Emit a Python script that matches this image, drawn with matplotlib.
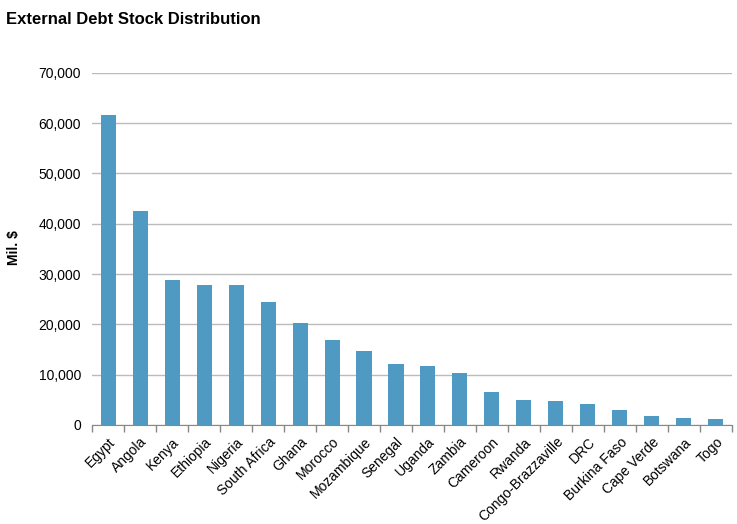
import matplotlib

matplotlib.use("Agg")
import matplotlib.pyplot as plt
from matplotlib.ticker import FuncFormatter, MultipleLocator, FixedLocator
import numpy as np

countries = [
    "Egypt", "Angola", "Kenya", "Ethiopia", "Nigeria", "South Africa", "Ghana",
    "Morocco", "Mozambique", "Senegal", "Uganda", "Zambia", "Cameroon", "Rwanda",
    "Congo-Brazzaville", "DRC", "Burkina Faso", "Cape Verde", "Botswana", "Togo",
]
debt_stock = [
    61600, 42500, 28800, 27800, 27800, 24500, 20300,
    16900, 14700, 12100, 11700, 10300, 6600, 5000,
    4800, 4200, 3000, 1800, 1400, 1200,
]

plt.rcParams["font.family"] = ["Liberation Sans", "DejaVu Sans"]

fig = plt.figure(figsize=(7.37, 5.24), dpi=100)
ax = fig.add_axes([0.125, 0.189, 0.868, 0.672])

x = np.arange(len(countries))
ax.bar(x, debt_stock, width=0.47, color="#4F9AC3", zorder=3)

ax.set_xlim(-0.5, len(countries) - 0.5)
ax.set_ylim(0, 70000)
ax.yaxis.set_major_locator(MultipleLocator(10000))
ax.yaxis.set_major_formatter(FuncFormatter(lambda v, p: f"{int(v):,}"))
ax.grid(axis="y", color="#BBBBBB", linewidth=1, zorder=0)

ax.set_xticks(x)
ax.set_xticklabels(countries, rotation=45, ha="right", rotation_mode="anchor", fontsize=10)
ax.tick_params(axis="x", which="major", length=0, pad=7)
ax.xaxis.set_minor_locator(FixedLocator(np.arange(-0.5, len(countries), 1.0)))
ax.tick_params(axis="x", which="minor", length=5, color="#888888", width=1)
ax.tick_params(axis="y", length=0, labelsize=10, pad=8)

for side in ("top", "right", "left"):
    ax.spines[side].set_visible(False)
ax.spines["bottom"].set_color("#888888")
ax.spines["bottom"].set_zorder(4)

fig.text(14 / 737, 1 - 248 / 524, "Mil. $", fontsize=10, fontweight="bold",
         rotation=90, ha="center", va="center")
fig.text(0.008, 0.978, "External Debt Stock Distribution", fontsize=12,
         fontweight="bold", ha="left", va="top")

fig.savefig("out.png", dpi=100)
